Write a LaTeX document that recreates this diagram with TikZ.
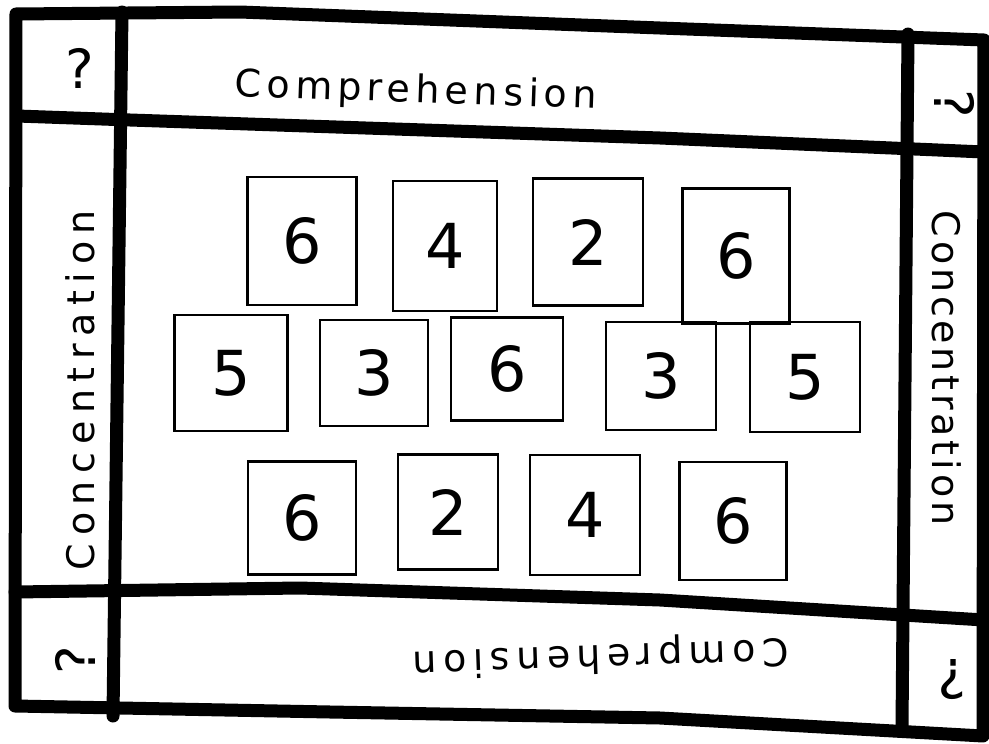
\documentclass[tikz,border=0pt]{standalone}
\usepackage{fontspec}
\setmainfont{DejaVu Sans}
\usetikzlibrary{positioning}

\tikzset{
  board/.style={line width=13pt, line cap=round, line join=round},
  card/.style={draw, line width=2.8pt, inner sep=0pt,
    font=\fontsize{62}{62}\selectfont},
  bandtext/.style={font=\fontsize{38}{38}\selectfont\addfontfeature{LetterSpace=#1}},
  bandtext/.default=14,
  quest/.style={font=\fontsize{54}{54}\selectfont},
}

\begin{document}
\begin{tikzpicture}[x=1pt, y=-1pt]
    \useasboundingbox (0,0) rectangle (989,744);

    % Khung bàn chơi
    \draw[board] (16,14) -- (240,12) -- (660,28) -- (984,40)
        -- (983,736) -- (660,718) -- (330,712) -- (15,706) -- cycle;
    \draw[board] (17,116) -- (130,120) -- (660,138) -- (984,152);
    \draw[board] (15,592) -- (300,588) -- (660,600) -- (984,620);
    \draw[board] (122,12) -- (113,716);
    \draw[board] (908,34) -- (902,728);

    % Chữ trên các cạnh
    \node[bandtext, rotate=-2] (topT) at (416,92) {Comprehension};
    \node[bandtext=17, rotate=182] (botT) at (601,656) {Comprehension};
    \node[bandtext=20, rotate=90] (leftT) at (80,390) {Concentration};
    \node[bandtext=10, rotate=-90] (rightT) at (947,368) {Concentration};

    % Dấu hỏi ở các góc
    \node[quest] (q1) at (80,68) {?};
    \node[quest, rotate=-90] (q2) at (955,104) {?};
    \node[quest, rotate=90] (q3) at (75,660) {?};
    \node[quest, rotate=180] (q4) at (952,680) {?};

    % Các lá bài
    \foreach \n/\x/\y/\w/\h/\v in {
        a1/302/241/109/128/6, a2/445/246/104/130/4, a3/588/242/110/127/2, a4/736/256/107/135/6,
        b1/231/373/113/116/5, b2/374/373/108/106/3, b3/507/369/112/103/6,
        b4/661/376/110/108/3, b5/805/377/110/110/5,
        c1/302/518/108/113/6, c2/448/512/100/115/2, c3/585/515/110/120/4, c4/733/521/107/118/6} {
        \node[card, minimum width=\w pt, minimum height=\h pt] (\n) at (\x,\y) {\v};
    }
\end{tikzpicture}
\end{document}
